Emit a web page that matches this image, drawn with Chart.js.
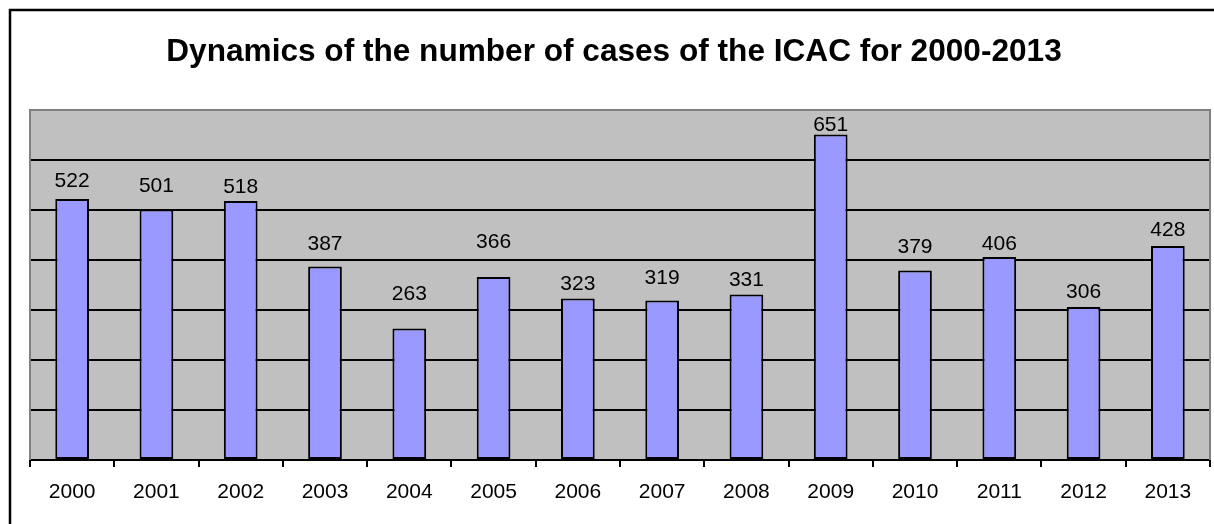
<!DOCTYPE html>
<html>
<head>
<meta charset="utf-8">
<title>ICAC cases 2000-2013</title>
<script src="https://cdn.jsdelivr.net/npm/chart.js@4/dist/chart.umd.min.js"></script>
<style>
  html, body { margin: 0; padding: 0; background: #fff; }
  #wrap { width: 1214px; height: 524px; position: relative; }
</style>
</head>
<body>
<div id="wrap"><canvas id="c" width="1214" height="524"></canvas></div>
<script>
// Year categories and case counts
const years = ['2000','2001','2002','2003','2004','2005','2006','2007','2008','2009','2010','2011','2012','2013'];
const cases = [522, 501, 518, 387, 263, 366, 323, 319, 331, 651, 379, 406, 306, 428];
// Value axis range and step
const yMin = 0, yMax = 700, yStep = 100;
// Vertical gap (px) between each bar top and its value label
const labelGap = [12, 18, 8, 17, 29, 29, 9, 17, 9, 12, 18, 7, 9, 10];

const titleText = 'Dynamics of the number of cases of the ICAC for 2000-2013';
const FONT = '"Liberation Sans", Arial, sans-serif';

const framePlugin = {
  id: 'frame',
  beforeDraw(chart) {
    const { ctx, chartArea: a } = chart;
    ctx.save();
    ctx.fillStyle = '#ffffff';
    ctx.fillRect(0, 0, chart.width, chart.height);
    // outer frame
    ctx.strokeStyle = '#000';
    ctx.lineWidth = 2.5;
    ctx.strokeRect(10, 10, chart.width + 20, chart.height + 20);
    // plot background
    ctx.fillStyle = '#c0c0c0';
    ctx.fillRect(a.left, a.top, a.right - a.left, a.bottom - a.top);
    // title
    ctx.fillStyle = '#000';
    ctx.font = 'bold 31.6px ' + FONT;
    ctx.textAlign = 'center';
    ctx.textBaseline = 'alphabetic';
    ctx.fillText(titleText, 614, 61);
    ctx.restore();
  },
  afterDraw(chart) {
    const { ctx, chartArea: a } = chart;
    ctx.save();
    // plot frame: top, left, right in grey
    ctx.strokeStyle = '#808080';
    ctx.lineWidth = 2;
    ctx.beginPath();
    ctx.moveTo(a.left, a.bottom);
    ctx.lineTo(a.left, a.top);
    ctx.lineTo(a.right, a.top);
    ctx.lineTo(a.right, a.bottom);
    ctx.stroke();
    ctx.restore();
  }
};

const valueLabels = {
  id: 'valueLabels',
  afterDatasetsDraw(chart) {
    const { ctx, chartArea: a } = chart;
    const meta = chart.getDatasetMeta(0);
    ctx.save();
    ctx.fillStyle = '#000';
    ctx.font = '21px ' + FONT;
    ctx.textAlign = 'center';
    ctx.textBaseline = 'alphabetic';
    meta.data.forEach((bar, i) => {
      let y = bar.y - labelGap[i];
      if (y < a.top + 21) y = a.top + 21;
      ctx.fillText(String(cases[i]), bar.x, y);
    });
    ctx.restore();
  }
};

new Chart(document.getElementById('c'), {
  type: 'bar',
  data: {
    labels: years,
    datasets: [{
      data: cases,
      backgroundColor: '#9999ff',
      borderColor: '#000',
      borderWidth: 2,
      borderSkipped: false,
      barPercentage: 0.4,
      categoryPercentage: 1.0
    }]
  },
  options: {
    responsive: false,
    devicePixelRatio: 1,
    animation: false,
    layout: { padding: { top: 110, left: 30, right: 4, bottom: 0 } },
    plugins: {
      legend: { display: false },
      title: { display: false },
      tooltip: { enabled: false }
    },
    scales: {
      x: {
        offset: true,
        grid: {
          offset: true,
          drawOnChartArea: false,
          drawTicks: true,
          tickLength: 7,
          color: '#000',
          lineWidth: 2
        },
        border: { display: true, color: '#000', width: 2 },
        ticks: {
          color: '#000',
          font: { family: FONT, size: 21 },
          padding: 13,
          maxRotation: 0,
          autoSkip: false
        },
        afterFit(scale) { scale.height = 64; }
      },
      y: {
        min: yMin,
        max: yMax,
        ticks: { display: false, stepSize: yStep },
        grid: {
          drawTicks: false,
          color: (c) => (c.tick && c.tick.value === yMax) ? 'rgba(0,0,0,0)' : '#000',
          lineWidth: 2
        },
        border: { display: false },
        afterFit(scale) { scale.width = 0; }
      }
    }
  },
  plugins: [framePlugin, valueLabels]
});
</script>
</body>
</html>
